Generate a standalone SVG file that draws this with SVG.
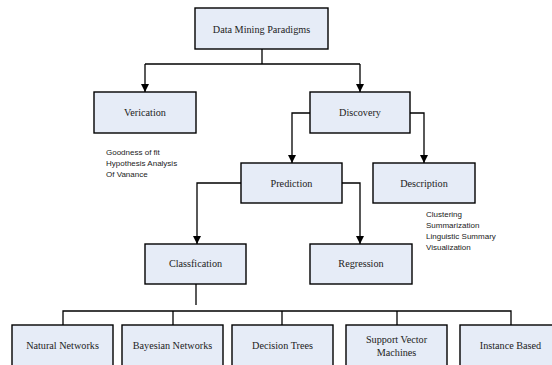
<svg xmlns="http://www.w3.org/2000/svg" width="552" height="365" viewBox="0 0 552 365">
<style>
.box{fill:#e6ecf7;stroke:#000;stroke-width:1.4}
.lbl{font-family:"Liberation Serif","Times New Roman",serif;font-size:10.2px;fill:#222;text-anchor:middle}
.note{font-family:"Liberation Sans",Arial,sans-serif;font-size:8px;fill:#222}
.c{fill:none;stroke:#000;stroke-width:1.3}
</style>
<defs>
<marker id="ah" markerUnits="userSpaceOnUse" markerWidth="8" markerHeight="9" refX="8" refY="4" orient="auto" viewBox="0 0 8 8">
<path d="M0,0 L8,4 L0,8 Z" fill="#000"/>
</marker>
</defs>
<rect width="552" height="365" fill="#fff"/>
<g id="connectors">
<path class="c" d="M262,49 V64"/>
<path class="c" d="M145,64 H360"/>
<path class="c" d="M145,64 V92" marker-end="url(#ah)"/>
<path class="c" d="M360,64 V92" marker-end="url(#ah)"/>
<path class="c" d="M310,113 H292 V163" marker-end="url(#ah)"/>
<path class="c" d="M410,113 H424 V163" marker-end="url(#ah)"/>
<path class="c" d="M241,183 H197 V244" marker-end="url(#ah)"/>
<path class="c" d="M342,183 H360 V244" marker-end="url(#ah)"/>
<path class="c" d="M196,284 V305"/>
<path class="c" d="M63,325 V311 H511 V325"/>
<path class="c" d="M173,311 V325"/>
<path class="c" d="M282,311 V325"/>
<path class="c" d="M397,311 V325"/>
</g>
<g id="root"><rect class="box" x="195" y="8" width="133" height="41"/><text class="lbl" x="261.5" y="33">Data Mining Paradigms</text></g>
<g id="verication"><rect class="box" x="94" y="92" width="102" height="41"/><text class="lbl" x="145" y="116">Verication</text></g>
<g id="verication-notes"><text class="note" x="106" y="155">Goodness of fit</text><text class="note" x="106" y="166">Hypothesis Analysis</text><text class="note" x="106" y="177">Of Vanance</text></g>
<g id="discovery"><rect class="box" x="310" y="92" width="100" height="41"/><text class="lbl" x="360" y="116">Discovery</text></g>
<g id="prediction"><rect class="box" x="241" y="163" width="101" height="40"/><text class="lbl" x="291.5" y="187">Prediction</text></g>
<g id="description"><rect class="box" x="373" y="163" width="102" height="40"/><text class="lbl" x="424" y="187">Description</text></g>
<g id="description-notes"><text class="note" x="426" y="217">Clustering</text><text class="note" x="426" y="228">Summarization</text><text class="note" x="426" y="239">Linguistic Summary</text><text class="note" x="426" y="250">Visualization</text></g>
<g id="classification"><rect class="box" x="145" y="244" width="101" height="40"/><text class="lbl" x="195.5" y="267">Classfication</text></g>
<g id="regression"><rect class="box" x="310" y="244" width="102" height="40"/><text class="lbl" x="361" y="267">Regression</text></g>
<g id="natural"><rect class="box" x="12" y="325" width="101" height="50"/><text class="lbl" x="62.5" y="349">Natural Networks</text></g>
<g id="bayesian"><rect class="box" x="122" y="325" width="101" height="50"/><text class="lbl" x="172.5" y="349">Bayesian Networks</text></g>
<g id="decision"><rect class="box" x="232" y="325" width="101" height="50"/><text class="lbl" x="282.5" y="349">Decision Trees</text></g>
<g id="svm"><rect class="box" x="346" y="325" width="101" height="50"/><text class="lbl" x="396.5" y="343">Support Vector</text><text class="lbl" x="396.5" y="356">Machines</text></g>
<g id="instance"><rect class="box" x="460" y="325" width="101" height="50"/><text class="lbl" x="510.5" y="349">Instance Based</text></g>
</svg>
